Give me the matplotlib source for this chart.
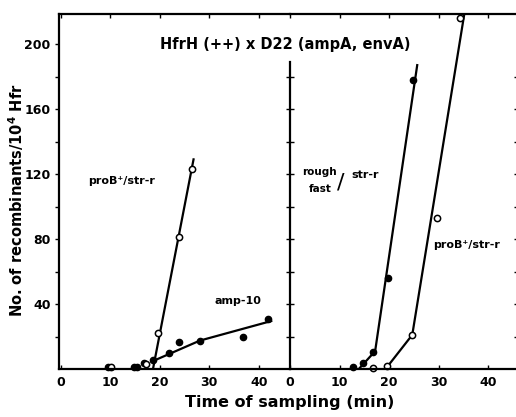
import matplotlib
matplotlib.use("Agg")
import matplotlib.pyplot as plt

plt.rcParams['font.family'] = ['DejaVu Sans']
plt.rcParams['font.weight'] = 'bold'

# left panel: proB+/str-r (open) and amp-10 (filled)
left_pro_x = [10.2, 17.2, 19.6, 23.8, 26.4]
left_pro_y = [1, 3, 22, 81, 123]
left_pro_line_x = [18.6, 26.8]
left_pro_line_y = [0, 129]

left_amp_x = [9.6, 14.8, 15.4, 16.8, 18.6, 21.8, 23.8, 28.1, 36.7, 41.8]
left_amp_y = [1, 1, 1, 3.5, 5.5, 10, 16.5, 17.5, 20, 31]
left_amp_line_x = [18.3, 28.1, 42.5]
left_amp_line_y = [4.5, 17.5, 29.5]

# right panel: rough/fast/str-r (filled) and proB+/str-r (open)
right_rough_x = [12.7, 14.8, 16.8, 19.7, 24.9]
right_rough_y = [1, 4, 10.5, 56, 178]
right_rough_line_x = [13.9, 17.2, 25.7]
right_rough_line_y = [0, 11, 187]

right_pro_x = [16.8, 19.5, 24.7, 29.6, 34.3]
right_pro_y = [0.5, 2, 21, 93, 216]
right_pro_line_x = [19.3, 24.7, 35.4]
right_pro_line_y = [0, 21, 222]

x_ticks = [0, 10, 20, 30, 40]
y_ticks = [20, 40, 60, 80, 100, 120, 140, 160, 180, 200]
y_labels = ['', '40', '', '80', '', '120', '', '160', '', '200']

W, H = 516, 417
fig = plt.figure(figsize=(W / 100, H / 100), dpi=100)
bot = 1 - 369 / H
hgt = (369 - 14) / H
ax1 = fig.add_axes([59 / W, bot, (290 - 59) / W, hgt])
ax2 = fig.add_axes([290 / W, bot, (518 - 290) / W, hgt])

ymax = (369 - 14) / 1.625
ax1.set_xlim(-0.4, 46.3)
ax2.set_xlim(0, 46.06)
for ax in (ax1, ax2):
    ax.set_ylim(0, ymax)
    ax.patch.set_visible(False)
    for s in ax.spines.values():
        s.set_linewidth(1.6)
    ax.set_xticks(x_ticks)
    ax.set_xticklabels([str(t) for t in x_ticks], fontsize=9, fontweight='bold')
    ax.tick_params(axis='x', which='both', direction='in', length=3, width=1,
                   top=True, pad=5)

lw = 1.6
ms = 4.5
ax1.plot(left_pro_line_x, left_pro_line_y, color='black', lw=lw)
ax1.plot(left_amp_line_x, left_amp_line_y, color='black', lw=lw)
ax1.plot(left_amp_x, left_amp_y, 'o', color='black', ms=ms, clip_on=False)
ax1.plot(left_pro_x, left_pro_y, 'o', mfc='white', mec='black', mew=1.1, ms=ms, clip_on=False)

ax2.plot(right_rough_line_x, right_rough_line_y, color='black', lw=lw)
ax2.plot(right_pro_line_x, right_pro_line_y, color='black', lw=lw)
ax2.plot(right_rough_x, right_rough_y, 'o', color='black', ms=ms, clip_on=False)
ax2.plot(right_pro_x, right_pro_y, 'o', mfc='white', mec='black', mew=1.1, ms=ms, clip_on=False)

# y axes
ax1.spines['right'].set_visible(False)
ax1.set_yticks(y_ticks)
ax1.set_yticklabels(y_labels, fontsize=9, fontweight='bold')
ax1.tick_params(axis='y', direction='out', length=3, width=1, pad=3)

ax2.spines['left'].set_bounds(0, 189)
ax2.set_yticks(y_ticks[:-1])
ax2.set_yticklabels([])
ax2.tick_params(axis='y', direction='inout', length=6, width=1, right=True)

fig.text(16 / W, 1 - 200 / H, 'No. of recombinants/10$^{\\mathbf{4}}$ Hfr', fontsize=10.5,
         fontweight='bold', rotation=90, ha='center', va='center')
fig.text(290 / W, 1 - 403 / H, 'Time of sampling (min)', fontsize=11.5,
         fontweight='bold', ha='center', va='center')

fig.text(160 / W, 1 - 44 / H, 'HfrH (++) x D22 (ampA, envA)', fontsize=10.5,
         fontweight='bold', va='center', ha='left')

ax1.text(5.5, 115.7, 'proB\u207a/str-r', fontsize=8, fontweight='bold', va='center')
ax1.text(31.1, 41.8, 'amp-10', fontsize=8, fontweight='bold', va='center')

ax2.text(6.0, 121.5, 'rough', fontsize=7.5, fontweight='bold', ha='center', va='center')
ax2.text(6.0, 111, 'fast', fontsize=7.5, fontweight='bold', ha='center', va='center')
ax2.text(10.2, 115, '/', fontsize=16, fontweight='normal', ha='center', va='center')
ax2.text(12.4, 119.5, 'str-r', fontsize=8, fontweight='bold', va='center')
ax2.text(28.9, 76.3, 'proB\u207a/str-r', fontsize=8, fontweight='bold', va='center')

fig.savefig('out.png', dpi=100)
